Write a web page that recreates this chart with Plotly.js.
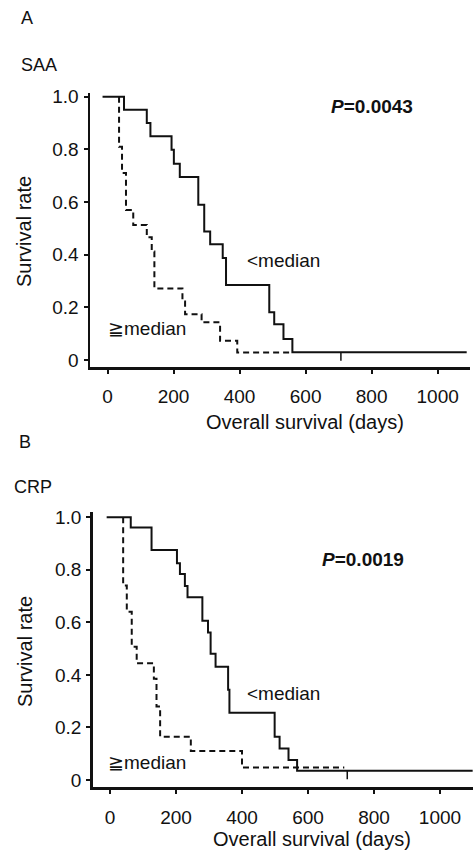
<!DOCTYPE html>
<html>
<head>
<meta charset="utf-8">
<script src="https://cdn.plot.ly/plotly-3.0.1.min.js"></script>
<style>html,body{margin:0;padding:0;background:#fff;}#chart{width:474px;height:851px;}</style>
</head>
<body>
<div id="chart"></div>
<script>
// Panel A: SAA
const saaLowDays  = [-15, 50, 119, 130, 194, 201, 219, 275, 293, 311, 349, 359, 490, 505, 533, 560, 1088];
const saaLowSurv  = [1.0, 0.95, 0.90, 0.85, 0.798, 0.745, 0.695, 0.59, 0.488, 0.44, 0.387, 0.285, 0.181, 0.136, 0.08, 0.029, 0.029];
const saaHighDays = [35, 35, 44, 56, 78, 119, 134, 142, 227, 235, 285, 341, 393, 560];
const saaHighSurv = [1.0, 0.81, 0.71, 0.57, 0.513, 0.466, 0.412, 0.272, 0.222, 0.174, 0.143, 0.073, 0.028, 0.028];
const saaCensorDays = [707];
const saaCensorSurv = [0.029];

// Panel B: CRP
const crpLowDays  = [-10, 63, 126, 203, 212, 227, 235, 280, 297, 305, 320, 358, 362, 499, 514, 541, 567, 1099];
const crpLowSurv  = [1.0, 0.961, 0.875, 0.825, 0.784, 0.738, 0.695, 0.606, 0.561, 0.48, 0.431, 0.343, 0.256, 0.165, 0.12, 0.076, 0.035, 0.035];
const crpHighDays = [40, 40, 51, 66, 81, 133, 141, 152, 245, 400, 710];
const crpHighSurv = [1.0, 0.74, 0.64, 0.507, 0.444, 0.385, 0.28, 0.165, 0.11, 0.048, 0.048];
const crpCensorDays = [719];
const crpCensorSurv = [0.035];

const xTickVals = [0, 200, 400, 600, 800, 1000];
const yTickVals = [0, 0.2, 0.4, 0.6, 0.8, 1.0];
const yTickText = ['0', '0.2', '0.4', '0.6', '0.8', '1.0'];

const panelLabels = ['A', 'B'];
const markerNames = ['SAA', 'CRP'];
const pValues = ['0.0043', '0.0019'];
const groupLow = '&lt;median';
const groupHigh = '\u2267median';
const yTitle = 'Survival rate';
const xTitle = 'Overall survival (days)';

const INK = '#111';
const FONT = 'Liberation Sans, Arial, sans-serif';

function curve(x, y, xa, ya, dashed) {
  return {x: x, y: y, xaxis: xa, yaxis: ya, type: 'scatter', mode: 'lines',
    line: {shape: 'hv', color: INK, width: 2, dash: dashed ? '6px,4px' : 'solid'},
    hoverinfo: 'skip'};
}
function censor(x, y, xa, ya) {
  return {x: x, y: y, xaxis: xa, yaxis: ya, type: 'scatter', mode: 'markers',
    marker: {size: 2, color: 'rgba(0,0,0,0)'},
    error_y: {type: 'data', symmetric: false, array: x.map(() => 0), arrayminus: x.map(() => 0.032),
      width: 0, thickness: 1.5, color: INK},
    hoverinfo: 'skip'};
}

const data = [
  curve(saaLowDays, saaLowSurv, 'x', 'y', false),
  curve(saaHighDays, saaHighSurv, 'x', 'y', true),
  censor(saaCensorDays, saaCensorSurv, 'x', 'y'),
  curve(crpLowDays, crpLowSurv, 'x2', 'y2', false),
  curve(crpHighDays, crpHighSurv, 'x2', 'y2', true),
  censor(crpCensorDays, crpCensorSurv, 'x2', 'y2')
];

function xAxis(domain, range, anchor) {
  return {domain: domain, range: range, anchor: anchor, tickvals: xTickVals,
    ticks: 'outside', ticklen: 4, tickwidth: 2, tickcolor: INK,
    showline: true, linewidth: 2.5, linecolor: INK, showgrid: false, zeroline: false,
    tickfont: {family: FONT, size: 19, color: INK}, ticklabelstandoff: 7, fixedrange: true};
}
function yAxis(domain, range, anchor) {
  return {domain: domain, range: range, anchor: anchor, tickvals: yTickVals, ticktext: yTickText,
    ticks: 'outside', ticklen: 4, tickwidth: 2, tickcolor: INK,
    showline: true, linewidth: 2.5, linecolor: INK, showgrid: false, zeroline: false,
    tickfont: {family: FONT, size: 19, color: INK}, ticklabelstandoff: 1, fixedrange: true};
}

function ann(text, x, y, opts) {
  return Object.assign({text: text, xref: 'paper', yref: 'paper', x: x / 474, y: 1 - y / 851,
    xanchor: 'left', yanchor: 'middle', showarrow: false,
    font: {family: FONT, size: 19, color: INK}}, opts || {});
}

const annotations = [
  ann(panelLabels[0], 19, 18, {font: {family: FONT, size: 18, color: INK}}),
  ann(markerNames[0], 19, 65, {font: {family: FONT, size: 18, color: INK}}),
  ann(panelLabels[1], 17, 442, {font: {family: FONT, size: 18, color: INK}}),
  ann(markerNames[1], 12, 487, {font: {family: FONT, size: 18, color: INK}}),
  ann('<b><i>P</i>=' + pValues[0] + '</b>', 329, 107),
  ann('<b><i>P</i>=' + pValues[1] + '</b>', 320, 559),
  ann(groupLow, 245, 260),
  ann(groupHigh, 106, 329),
  ann(groupLow, 245, 693),
  ann(groupHigh, 106, 762),
  ann(yTitle, 24, 232, {textangle: -90, xanchor: 'center', font: {family: FONT, size: 20, color: INK}}),
  ann(yTitle, 25, 652, {textangle: -90, xanchor: 'center', font: {family: FONT, size: 20, color: INK}}),
  ann(xTitle, 305, 422, {xanchor: 'center', font: {family: FONT, size: 20, color: INK}}),
  ann(xTitle, 312, 839, {xanchor: 'center', font: {family: FONT, size: 20, color: INK}})
];

const layout = {
  width: 474, height: 851,
  margin: {l: 0, r: 0, t: 0, b: 0},
  paper_bgcolor: '#fff', plot_bgcolor: '#fff',
  showlegend: false,
  font: {family: FONT, color: INK},
  xaxis: xAxis([90 / 474, 470 / 474], [-53, 1098], 'y'),
  yaxis: yAxis([1 - 367 / 851, 1 - 93 / 851], [-0.0266, 1.014], 'x'),
  xaxis2: xAxis([92.7 / 474, 473 / 474], [-52.3, 1100], 'y2'),
  yaxis2: yAxis([1 - 787.3 / 851, 1 - 511.7 / 851], [-0.0278, 1.021], 'x2'),
  annotations: annotations
};

Plotly.newPlot('chart', data, layout, {staticPlot: true, displayModeBar: false});
</script>
</body>
</html>
